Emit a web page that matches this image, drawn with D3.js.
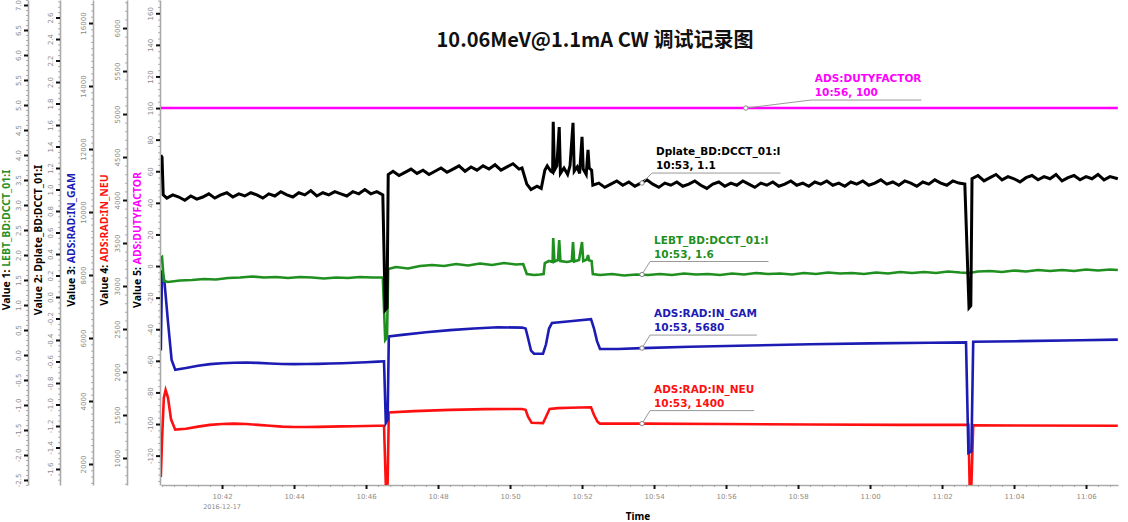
<!DOCTYPE html>
<html><head><meta charset="utf-8">
<script src="https://cdn.jsdelivr.net/npm/d3@7"></script>
<style>body{margin:0;background:#fff;} svg{display:block;}</style>
</head><body>
<svg id="c" width="1128" height="522"></svg>
<script>
// time values are seconds after 10:40:00 on 2016-12-17
const chartTitle = "10.06MeV@1.1mA CW 调试记录图";
const seriesNames = ["LEBT_BD:DCCT_01:I", "Dplate_BD:DCCT_01:I", "ADS:RAD:IN_GAM", "ADS:RAD:IN_NEU", "ADS:DUTYFACTOR"];
const seriesColors = ["#1f8f1f", "#000000", "#1c1cb4", "#ff1010", "#ff00ff"];

const lebt = [[18,1.94],[20,1.96],[23,1.48],[30,1.46],[50,1.49],[70,1.50],[90,1.52],[110,1.51],[130,1.54],[150,1.55],[170,1.57],[190,1.55],[210,1.56],[230,1.54],[250,1.56],[270,1.55],[290,1.53],[310,1.55],[330,1.54],[350,1.56],[370,1.55],[388,1.55],
 [392,0.30],[395,0.35],[397,1.72],[410,1.76],[430,1.73],[450,1.78],[470,1.80],[490,1.78],[510,1.82],[530,1.79],[550,1.83],[570,1.80],[590,1.84],[610,1.81],[622,1.82],
 [628,1.62],[640,1.60],[650,1.61],[656,1.62],[658,1.84],[665,1.88],[671,1.86],[672,2.34],[674,1.87],[680,1.90],[682,2.30],[684,1.88],[695,1.86],[703,1.88],[705,2.26],[707,1.87],[715,1.90],[720,2.26],[722,1.88],[728,1.91],[730,2.00],[732,1.89],[736,1.88],[738,1.62],
 [750,1.60],[770,1.62],[790,1.59],[810,1.61],[830,1.60],[850,1.62],[870,1.60],[890,1.63],[910,1.61],[930,1.62],[950,1.60],[970,1.63],[990,1.61],[1010,1.64],[1030,1.62],[1050,1.63],[1070,1.61],[1090,1.64],[1110,1.62],[1130,1.65],[1150,1.63],[1170,1.64],[1190,1.62],[1210,1.65],[1230,1.63],[1250,1.66],[1270,1.64],[1290,1.66],[1310,1.64],[1330,1.67],[1350,1.65],[1365,1.64],[1380,1.67],[1400,1.68],[1420,1.66],[1440,1.69],[1460,1.67],[1480,1.70],[1500,1.68],[1520,1.70],[1540,1.68],[1560,1.71],[1580,1.69],[1600,1.71],[1613,1.70]];

const dplate = [[18,1.32],[20,1.30],[22,0.95],[28,0.92],[38,0.95],[48,0.93],[58,0.90],[68,0.94],[78,0.91],[88,0.93],[98,0.96],[108,0.92],[118,0.95],[128,0.97],[138,0.93],[148,0.96],[158,0.94],[168,0.97],[178,0.95],[188,0.92],[198,0.96],[208,0.94],[218,0.98],[228,0.95],[238,0.93],[248,0.97],[258,0.95],[268,0.99],[278,0.94],[288,0.97],[298,0.95],[308,0.98],[318,0.96],[328,0.94],[338,0.98],[348,0.96],[358,1.00],[368,0.96],[378,0.98],[388,0.95],
 [392,-0.12],[395,-0.10],[397,1.14],[405,1.17],[415,1.13],[425,1.16],[435,1.19],[445,1.15],[455,1.18],[465,1.14],[475,1.17],[485,1.20],[495,1.16],[505,1.19],[515,1.22],[525,1.17],[535,1.21],[545,1.18],[555,1.22],[565,1.19],[575,1.23],[585,1.18],[595,1.21],[605,1.24],[615,1.19],[620,1.20],
 [628,1.05],[635,1.00],[645,1.03],[652,1.01],[658,1.18],[662,1.22],[668,1.17],[671,1.16],[672,1.63],[674,1.18],[678,1.22],[682,1.58],[684,1.15],[690,1.20],[696,1.14],[700,1.22],[705,1.62],[707,1.17],[712,1.21],[716,1.15],[720,1.49],[722,1.19],[727,1.14],[730,1.37],[732,1.20],[736,1.18],[738,1.04],
 [748,1.06],[758,1.02],[768,1.05],[778,1.08],[788,1.04],[798,1.07],[808,1.03],[818,1.06],[828,1.09],[838,1.05],[848,1.02],[858,1.06],[868,1.04],[878,1.07],[888,1.03],[898,1.05],[908,1.08],[918,1.04],[928,1.01],[938,1.05],[948,1.07],[958,1.03],[968,1.06],[978,1.04],[988,1.08],[998,1.05],[1008,1.02],[1018,1.06],[1028,1.04],[1038,1.07],[1048,1.03],[1058,1.05],[1068,1.08],[1078,1.04],[1088,1.06],[1098,1.03],[1108,1.07],[1118,1.05],[1128,1.08],[1138,1.04],[1148,1.06],[1158,1.03],[1168,1.07],[1178,1.05],[1188,1.08],[1198,1.04],[1208,1.06],[1218,1.09],[1228,1.05],[1238,1.07],[1248,1.04],[1258,1.08],[1268,1.06],[1278,1.03],[1288,1.07],[1298,1.05],[1308,1.09],[1318,1.06],[1328,1.04],[1338,1.08],[1348,1.06],[1358,1.05],
 [1365,-0.10],[1368,-0.08],[1370,1.10],[1380,1.13],[1390,1.08],[1400,1.11],[1410,1.14],[1420,1.09],[1430,1.12],[1440,1.10],[1450,1.07],[1460,1.11],[1470,1.13],[1480,1.09],[1490,1.12],[1500,1.10],[1510,1.14],[1520,1.08],[1530,1.11],[1540,1.13],[1550,1.09],[1560,1.12],[1570,1.10],[1580,1.14],[1590,1.09],[1600,1.12],[1613,1.10]];

const gam = [[18,5600],[20,8150],[24,7800],[30,6500],[36,5300],[42,4990],[60,5050],[80,5120],[100,5170],[120,5200],[140,5215],[160,5220],[180,5210],[200,5190],[220,5175],[240,5170],[260,5175],[280,5180],[300,5190],[320,5200],[340,5215],[360,5230],[380,5250],[390,5260],
 [393,3300],[396,3400],[398,6050],[420,6100],[460,6180],[500,6250],[540,6300],[580,6340],[620,6330],[626,6300],[630,6000],[635,5600],[640,5500],[655,5500],[660,5800],[665,6300],[670,6480],[700,6530],[735,6600],[740,6300],[745,5900],[750,5650],
 [780,5650],[820,5680],[900,5720],[1000,5760],[1100,5800],[1200,5830],[1300,5850],[1360,5860],[1364,2350],[1369,2400],[1372,5880],[1450,5900],[1550,5930],[1613,5950]];

const neu = [[18,780],[20,1200],[23,1700],[26,1790],[30,1700],[35,1450],[42,1330],[60,1340],[80,1365],[100,1385],[120,1395],[140,1400],[160,1395],[180,1385],[200,1375],[220,1365],[240,1360],[260,1360],[280,1362],[300,1365],[320,1368],[340,1370],[360,1372],[380,1375],[390,1375],
 [393,690],[396,700],[398,1530],[440,1545],[500,1560],[560,1568],[620,1570],[626,1560],[630,1480],[636,1410],[655,1405],[660,1480],[666,1570],[680,1580],[700,1585],[735,1590],[740,1500],[746,1420],[750,1400],
 [820,1400],[950,1395],[1100,1390],[1250,1385],[1364,1385],[1366,690],[1369,700],[1372,1380],[1450,1378],[1613,1375]];

const duty = [[18,100],[1613,100]];

const xMajorLabels = ["10:42","10:44","10:46","10:48","10:50","10:52","10:54","10:56","10:58","11:00","11:02","11:04","11:06"];
const dateLabel = "2016-12-17";
const annotations = [
  {s:1, t:820, text:"10:53, 1.1"},
  {s:0, t:820, text:"10:53, 1.6"},
  {s:2, t:820, text:"10:53, 5680"},
  {s:3, t:820, text:"10:53, 1400"},
  {s:4, t:993, text:"10:56, 100"}
];

const t0 = new Date(2016,11,17,10,40,0);
const toDate = s => new Date(t0.getTime() + s*1000);
const L = 161, R = 1118, B = 485, T = 0;
const x = d3.scaleTime().domain([toDate(18.3), toDate(1613.3)]).range([L, R]);
const yScales = [
  d3.scaleLinear().domain([-2.6, 7.1]).range([B, T]),
  d3.scaleLinear().domain([-1.749, 2.763]).range([B, T]),
  d3.scaleLinear().domain([1333, 16731]).range([B, T]),
  d3.scaleLinear().domain([686, 6326]).range([B, T]),
  d3.scaleLinear().domain([-138.6, 168.4]).range([B, T])
];
const axisX = [28, 60, 93, 127, 160];
const majorSteps = [0.5, 0.2, 2000, 500, 20];
const minorSteps = [0.1, 0.05, 200, 100, 4];
const fmts = [v=>v.toFixed(1), v=>v.toFixed(1), v=>String(Math.round(v)), v=>String(Math.round(v)), v=>String(Math.round(v))];
const titleX = [6, 38, 71, 104, 137];
const allData = [lebt, dplate, gam, neu, duty];

const svg = d3.select("#c");
const tickFont = "DejaVu Sans, sans-serif";

function range(dom, step){
  const out=[]; const a=Math.ceil(dom[0]/step-1e-9), b=Math.floor(dom[1]/step+1e-9);
  for(let i=a;i<=b;i++) out.push(+(i*step).toFixed(6));
  return out;
}

// y axes
yScales.forEach((ys,i)=>{
  const g = svg.append("g").attr("transform",`translate(${axisX[i]},0)`);
  const minor = d3.axisLeft(ys).tickValues(range(ys.domain(), minorSteps[i])).tickSize(2).tickSizeOuter(0).tickFormat("");
  const gm = g.append("g").call(minor);
  gm.selectAll(".tick line").attr("stroke","#999").attr("stroke-width",0.8);
  gm.select(".domain").attr("stroke","#aaa").attr("stroke-width",1.6);
  const major = d3.axisLeft(ys).tickValues(range(ys.domain(), majorSteps[i])).tickSize(4).tickSizeOuter(0).tickFormat(fmts[i]);
  const gM = g.append("g").call(major);
  gM.select(".domain").remove();
  gM.selectAll(".tick line").attr("stroke","#111").attr("stroke-width",2);
  gM.selectAll(".tick text").attr("x",null).attr("dy",null)
    .attr("transform","translate(-7,0) rotate(-90)")
    .attr("text-anchor","middle").attr("fill","#8a8a8a")
    .style("font-size","7px").style("font-family",tickFont);
  // axis title
  const tt = svg.append("text").attr("transform",`translate(${titleX[i]},240) rotate(-90)`)
    .attr("text-anchor","middle").attr("dominant-baseline","central")
    .style("font-family","'Noto Sans', 'DejaVu Sans', sans-serif").style("font-weight","bold").style("font-size","10.5px");
  tt.append("tspan").attr("fill","#000").text(`Value ${i+1}: `);
  tt.append("tspan").attr("fill",seriesColors[i]).text(seriesNames[i]);
});

// x axis
const gx = svg.append("g").attr("transform",`translate(0,${B})`);
const gxm = gx.append("g").call(d3.axisBottom(x).ticks(d3.timeSecond.every(20)).tickSize(2).tickSizeOuter(0).tickFormat(""));
gxm.selectAll(".tick line").attr("stroke","#999").attr("stroke-width",0.8);
gxm.select(".domain").attr("stroke","#aaa").attr("stroke-width",1.6);
const gxM = gx.append("g").call(d3.axisBottom(x).ticks(d3.timeMinute.every(2)).tickSize(4).tickSizeOuter(0)
   .tickFormat((d,i)=>xMajorLabels[i] || d3.timeFormat("%H:%M")(d)));
gxM.select(".domain").remove();
gxM.selectAll(".tick line").attr("stroke","#111").attr("stroke-width",2);
gxM.selectAll(".tick text").attr("y",9).attr("fill","#8a8a8a").style("font-size","7px").style("font-family",tickFont);
const firstTick = d3.timeMinute.every(2).range(x.domain()[0], x.domain()[1])[0];
svg.append("text").attr("x",x(firstTick)).attr("y",509).attr("text-anchor","middle")
  .attr("fill","#8a8a8a").style("font-size","6.5px").style("font-family",tickFont).text(dateLabel);
svg.append("text").attr("x",638).attr("y",520).attr("text-anchor","middle")
  .style("font-family","'Noto Sans', sans-serif").style("font-weight","bold").style("font-size","10px").text("Time");

// title
svg.append("text").attr("x",595).attr("y",47).attr("text-anchor","middle")
  .style("font-family","'Noto Sans CJK SC', 'Noto Sans', sans-serif").style("font-weight","bold").style("font-size","20px")
  .attr("fill","#111").text(chartTitle);

// lines
svg.append("clipPath").attr("id","plot").append("rect").attr("x",L).attr("y",T).attr("width",R-L+4).attr("height",B-T);
const drawOrder = [4,3,2,0,1];
const widths = [2.6,3,2.6,2.6,2.4];
drawOrder.forEach(i=>{
  const ys = yScales[i];
  const line = d3.line().x(d=>x(toDate(d[0]))).y(d=>ys(d[1]));
  svg.append("path").datum(allData[i]).attr("clip-path","url(#plot)")
    .attr("fill","none").attr("stroke",seriesColors[i]).attr("stroke-width",widths[i])
    .attr("stroke-linejoin","miter").attr("d",line);
});

// annotations
const annOffset = {0:[8,-13],1:[10,-10],2:[8,-13],3:[8,-13],4:[65,-8]};
const annFont = "'DejaVu Sans', sans-serif";
annotations.forEach(a=>{
  const data = allData[a.s];
  let best = data[0];
  data.forEach(d=>{ if(Math.abs(d[0]-a.t) < Math.abs(best[0]-a.t)) best = d; });
  const px = x(toDate(a.t)), py = yScales[a.s](best[1]);
  const [dx,dy] = annOffset[a.s];
  const ux = px+dx, uy = py+dy;
  const g = svg.append("g");
  const t1 = g.append("text").attr("x",ux+4).attr("y",uy-18).attr("fill",seriesColors[a.s])
    .style("font-family",annFont).style("font-weight","bold").style("font-size","10.5px").text(seriesNames[a.s]);
  const t2 = g.append("text").attr("x",ux+4).attr("y",uy-4).attr("fill",seriesColors[a.s])
    .style("font-family",annFont).style("font-weight","bold").style("font-size","10.5px").text(a.text);
  const w = Math.max(t1.node().getComputedTextLength(), t2.node().getComputedTextLength());
  g.append("line").attr("x1",px).attr("y1",py).attr("x2",ux).attr("y2",uy).attr("stroke","#999").attr("stroke-width",1);
  g.append("line").attr("x1",ux).attr("y1",uy).attr("x2",ux+w+4).attr("y2",uy).attr("stroke","#999").attr("stroke-width",1);
  g.append("circle").attr("cx",px).attr("cy",py).attr("r",2.2).attr("fill","#fff").attr("stroke","#888").attr("stroke-width",1);
});
</script>
</body></html>
